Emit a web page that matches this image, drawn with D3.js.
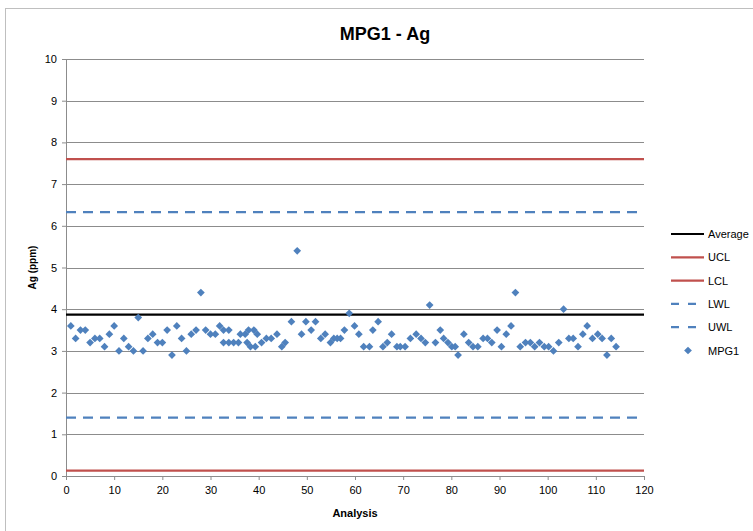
<!DOCTYPE html>
<html>
<head>
<meta charset="utf-8">
<script src="https://cdn.jsdelivr.net/npm/d3@7"></script>
<style>
  body { margin: 0; background: #fff; }
  text { font-family: "Liberation Sans", Arial, sans-serif; }
</style>
</head>
<body>
<div id="chart"></div>
<script>
// analysis number and measured Ag (ppm) for MPG1
const analysis = [1, 2, 3, 4, 5, 6, 7, 8, 9, 10, 11, 12, 13, 14, 15, 16, 17, 18, 19, 20,
    21, 22, 23, 24, 25, 26, 27, 28, 29, 30, 31, 31.9, 32.7, 33.8, 32.7, 33.8, 34.8, 35.8, 36.2, 37.2,
    37.9, 39, 39.7, 37.6, 38.3, 39.3, 40.6, 41.6, 42.6, 43.8, 44.8, 45.5, 46.8, 48, 48.9, 49.8, 50.9, 51.8, 52.9, 53.8,
    54.9, 55.6, 56.3, 57, 57.8, 58.8, 59.9, 60.8, 61.8, 63, 63.7, 64.8, 65.8, 66.7, 67.6, 68.7, 69.4, 70.4, 71.5, 72.7,
    73.7, 74.6, 75.5, 76.7, 77.7, 78.4, 79.3, 80.1, 80.8, 81.4, 82.6, 83.6, 84.5, 85.5, 86.6, 87.5, 88.4, 89.5, 90.4, 91.4,
    92.4, 93.3, 94.3, 95.4, 96.4, 97.3, 98.3, 99.3, 100.2, 101.2, 102.3, 103.3, 104.4, 105.3, 106.3, 107.3, 108.2, 109.3, 110.4, 111.3,
    112.3, 113.2, 114.2];
const agValues = [3.6, 3.3, 3.5, 3.5, 3.2, 3.3, 3.3, 3.1, 3.4, 3.6, 3.0, 3.3, 3.1, 3.0, 3.8, 3.0, 3.3, 3.4, 3.2, 3.2,
    3.5, 2.9, 3.6, 3.3, 3.0, 3.4, 3.5, 4.4, 3.5, 3.4, 3.4, 3.6, 3.5, 3.5, 3.2, 3.2, 3.2, 3.2, 3.4, 3.4,
    3.5, 3.5, 3.4, 3.2, 3.1, 3.1, 3.2, 3.3, 3.3, 3.4, 3.1, 3.2, 3.7, 5.4, 3.4, 3.7, 3.5, 3.7, 3.3, 3.4,
    3.2, 3.3, 3.3, 3.3, 3.5, 3.9, 3.6, 3.4, 3.1, 3.1, 3.5, 3.7, 3.1, 3.2, 3.4, 3.1, 3.1, 3.1, 3.3, 3.4,
    3.3, 3.2, 4.1, 3.2, 3.5, 3.3, 3.2, 3.1, 3.1, 2.9, 3.4, 3.2, 3.1, 3.1, 3.3, 3.3, 3.2, 3.5, 3.1, 3.4,
    3.6, 4.4, 3.1, 3.2, 3.2, 3.1, 3.2, 3.1, 3.1, 3.0, 3.2, 4.0, 3.3, 3.3, 3.1, 3.4, 3.6, 3.3, 3.4, 3.3,
    2.9, 3.3, 3.1];

// control limits
const limitNames = ["Average", "UCL", "LCL", "LWL", "UWL"];
const limitValues = [3.87, 7.6, 0.13, 1.4, 6.33];

const xTicks = [0, 10, 20, 30, 40, 50, 60, 70, 80, 90, 100, 110, 120];
const yTicks = [0, 1, 2, 3, 4, 5, 6, 7, 8, 9, 10];

const WIDTH = 753, HEIGHT = 531;
const margin = {top: 59, right: 109, bottom: 55, left: 66};
const width = WIDTH - margin.left - margin.right;
const height = HEIGHT - margin.top - margin.bottom;

const limitStyle = {
    Average: {color: "#000000", dash: null, w: 2.2},
    UCL: {color: "#C0504D", dash: null, w: 2.2},
    LCL: {color: "#C0504D", dash: null, w: 2.2},
    LWL: {color: "#4F81BD", dash: "10,7", w: 2.2},
    UWL: {color: "#4F81BD", dash: "10,7", w: 2.2}
};
const blue = "#4F81BD";

const svg = d3.select("#chart").append("svg")
    .attr("width", WIDTH)
    .attr("height", HEIGHT);

// chart frame
svg.append("rect")
    .attr("x", 5.5).attr("y", 8.5)
    .attr("width", WIDTH + 10).attr("height", HEIGHT + 10)
    .attr("fill", "none").attr("stroke", "#bfbfbf");

const g = svg.append("g")
    .attr("transform", `translate(${margin.left},${margin.top})`);

const x = d3.scaleLinear().domain([0, 120]).range([0, width]);
const y = d3.scaleLinear().domain([0, 10]).range([height, 0]);

// gridlines
g.selectAll(".grid").data(yTicks.filter(d => d > 0)).enter()
    .append("line")
    .attr("class", "grid")
    .attr("x1", 0).attr("x2", width)
    .attr("y1", d => Math.round(y(d)) + 0.5).attr("y2", d => Math.round(y(d)) + 0.5)
    .attr("stroke", "#8c8c8c").attr("stroke-width", 1);

// axes
const yAxis = g.append("g")
    .call(d3.axisLeft(y).tickValues(yTicks).tickSize(4).tickFormat(d3.format("d")));
const xAxis = g.append("g")
    .attr("transform", `translate(0,${height})`)
    .call(d3.axisBottom(x).tickValues(xTicks).tickSize(4).tickFormat(d3.format("d")));

[xAxis, yAxis].forEach(a => {
    a.select(".domain").attr("stroke", "#8c8c8c");
    a.selectAll(".tick line").attr("stroke", "#8c8c8c");
    a.selectAll(".tick text").attr("fill", "#000").attr("font-size", 11);
});
yAxis.selectAll(".tick text").attr("x", -9);
xAxis.selectAll(".tick text").attr("y", 10);

// limit lines
const limits = limitNames.map((n, i) => ({name: n, value: limitValues[i]}));
g.selectAll(".limit").data(limits).enter()
    .append("line")
    .attr("class", "limit")
    .attr("x1", x(0)).attr("x2", x(120))
    .attr("y1", d => y(d.value)).attr("y2", d => y(d.value))
    .attr("stroke", d => limitStyle[d.name].color)
    .attr("stroke-width", d => limitStyle[d.name].w)
    .attr("stroke-dasharray", d => limitStyle[d.name].dash);

// points
const points = analysis.map((a, i) => ({x: a, y: agValues[i]}));
const diamond = d3.symbol().type(d3.symbolSquare).size(30);
g.selectAll(".pt").data(points).enter()
    .append("path")
    .attr("class", "pt")
    .attr("d", diamond)
    .attr("transform", d => `translate(${x(d.x)},${y(d.y)}) rotate(45)`)
    .attr("fill", blue);

// titles
svg.append("text")
    .attr("x", 385).attr("y", 40)
    .attr("text-anchor", "middle")
    .attr("font-size", 18).attr("font-weight", "bold")
    .text("MPG1 - Ag");

svg.append("text")
    .attr("transform", `translate(36,${margin.top + height / 2}) rotate(-90)`)
    .attr("text-anchor", "middle")
    .attr("font-size", 10).attr("font-weight", "bold")
    .text("Ag (ppm)");

svg.append("text")
    .attr("x", margin.left + width / 2).attr("y", 517)
    .attr("text-anchor", "middle")
    .attr("font-size", 11).attr("font-weight", "bold")
    .text("Analysis");

// legend
const legendNames = limitNames.concat(["MPG1"]);
const legend = svg.append("g").attr("transform", "translate(671,234)");
const rows = legend.selectAll(".row").data(legendNames).enter()
    .append("g")
    .attr("transform", (d, i) => `translate(0,${i * 23.3})`);

rows.filter(d => d !== "MPG1").append("line")
    .attr("x1", 0).attr("x2", 33)
    .attr("stroke", d => limitStyle[d].color)
    .attr("stroke-width", d => limitStyle[d].w)
    .attr("stroke-dasharray", d => limitStyle[d].dash ? "8,9" : null);

rows.filter(d => d === "MPG1").append("path")
    .attr("d", diamond)
    .attr("transform", "translate(17,0) rotate(45)")
    .attr("fill", blue);

rows.append("text")
    .attr("x", 37).attr("y", 4)
    .attr("font-size", 11)
    .text(d => d);
</script>
</body>
</html>
